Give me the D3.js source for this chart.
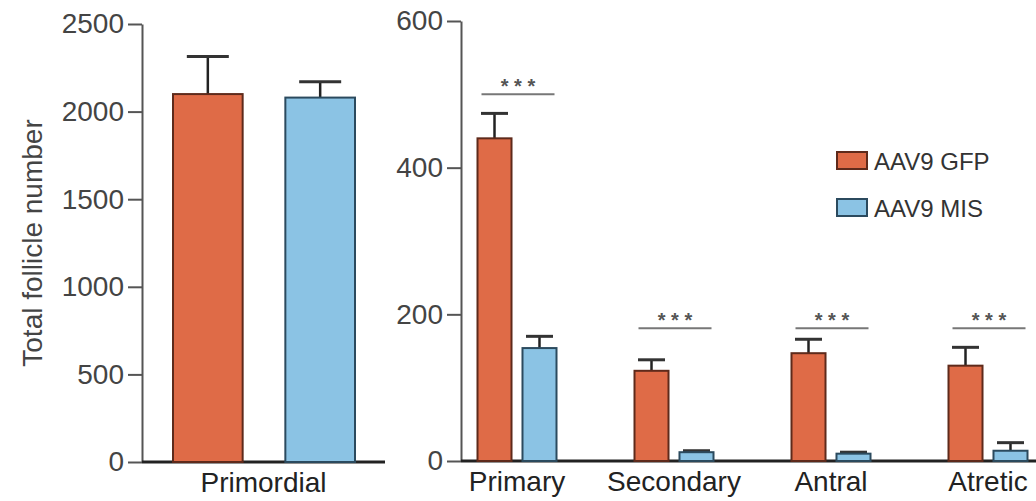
<!DOCTYPE html>
<html>
<head>
<meta charset="utf-8">
<script src="https://cdn.jsdelivr.net/npm/d3@7"></script>
<style>
  html, body { margin: 0; padding: 0; background: #fff; }
  svg { display: block; font-family: "Liberation Sans", Arial, sans-serif; }
</style>
</head>
<body>
<div id="chart"></div>
<script>
// data
const series = ["AAV9 GFP", "AAV9 MIS"];
const leftCategories = ["Primordial"];
const primordialMean = [2100, 2080];
const primordialErr = [215, 90];

const rightCategories = ["Primary", "Secondary", "Antral", "Atretic"];
const gfpMean = [440, 123, 147, 130];
const gfpErr = [34, 15, 19, 25];
const misMean = [154, 12, 10, 14];
const misErr = [16, 2, 2, 11];

// significance bars (height in data units) and their labels
const sigLevel = [500, 181, 181, 181];
const sigLabel = ["* * *", "* * *", "* * *", "* * *"];

const leftTicks = [0, 500, 1000, 1500, 2000, 2500];
const rightTicks = [0, 200, 400, 600];

// colours
const fillColor = { "AAV9 GFP": "#df6b47", "AAV9 MIS": "#8bc3e4" };
const edgeColor = { "AAV9 GFP": "#5e2a1b", "AAV9 MIS": "#2b4a5e" };

const W = 1036, H = 501;
const svg = d3.select("#chart").append("svg")
  .attr("width", W).attr("height", H);

// generic panel drawing
function drawPanel(opts) {
  const { rows, y, ticks, xLeft, xRight, band, inner, cap } = opts;

  // y axis
  const yAxis = svg.append("g")
    .attr("transform", `translate(${xLeft},0)`)
    .call(d3.axisLeft(y).tickValues(ticks).tickFormat(d3.format("d"))
      .tickSize(14).tickSizeOuter(0).tickPadding(4));
  yAxis.select(".domain").attr("stroke", "#555").attr("stroke-width", 2);
  yAxis.selectAll(".tick line").attr("stroke", "#555").attr("stroke-width", 2);
  yAxis.selectAll(".tick text")
    .attr("fill", "#444")
    .style("font-size", "28px");

  // x baseline
  svg.append("line")
    .attr("x1", xLeft).attr("x2", xRight)
    .attr("y1", y(0)).attr("y2", y(0))
    .attr("stroke", "#222").attr("stroke-width", 3);

  // category labels
  const xAxis = svg.append("g")
    .attr("transform", `translate(0,${y(0)})`)
    .call(d3.axisBottom(band).tickSize(0).tickPadding(10));
  xAxis.select(".domain").remove();
  xAxis.selectAll(".tick text")
    .attr("fill", "#222")
    .style("font-size", "28px");

  // bars
  const groups = svg.append("g").selectAll("g.grp")
    .data(rows)
    .enter().append("g")
      .attr("class", "grp")
      .attr("transform", d => `translate(${band(d.cat)},0)`);

  const bars = groups.selectAll("g.bar")
    .data(d => d.values)
    .enter().append("g").attr("class", "bar");

  // error bars (upper only)
  bars.append("line")
    .attr("x1", d => inner(d.key) + inner.bandwidth() / 2)
    .attr("x2", d => inner(d.key) + inner.bandwidth() / 2)
    .attr("y1", d => y(d.mean))
    .attr("y2", d => y(d.mean + d.err))
    .attr("stroke", "#222").attr("stroke-width", 2.5);
  bars.append("line")
    .attr("x1", d => inner(d.key) + inner.bandwidth() / 2 - cap / 2)
    .attr("x2", d => inner(d.key) + inner.bandwidth() / 2 + cap / 2)
    .attr("y1", d => y(d.mean + d.err))
    .attr("y2", d => y(d.mean + d.err))
    .attr("stroke", "#333").attr("stroke-width", 3);

  bars.append("rect")
    .attr("x", d => inner(d.key))
    .attr("y", d => y(d.mean))
    .attr("width", inner.bandwidth())
    .attr("height", d => y(0) - y(d.mean))
    .attr("fill", d => fillColor[d.key])
    .attr("stroke", d => edgeColor[d.key])
    .attr("stroke-width", 2);
}

// 1) left panel: primordial
const yLeft = d3.scaleLinear().domain([0, 2500]).range([462, 24]);
const xLeftBand = d3.scaleBand().domain(leftCategories).range([142, 385]);
const xLeftInner = d3.scaleBand().domain(series).range([31, 213]).paddingInner(0.38);

drawPanel({
  rows: [{ cat: "Primordial", values: series.map((s, i) => ({ key: s, mean: primordialMean[i], err: primordialErr[i] })) }],
  y: yLeft, ticks: leftTicks, xLeft: 142, xRight: 385,
  band: xLeftBand, inner: xLeftInner, cap: 42
});

// y title
svg.append("text")
  .attr("transform", "translate(42,243) rotate(-90)")
  .attr("text-anchor", "middle")
  .attr("fill", "#444")
  .style("font-size", "28px")
  .text("Total follicle number");

// 2) right panel: growing follicles
const yRight = d3.scaleLinear().domain([0, 600]).range([461, 21]);
const xRightBand = d3.scaleBand().domain(rightCategories).range([438.5, 1066.5]);
const xRightInner = d3.scaleBand().domain(series).range([39, 118]).paddingInner(0.244);

const rightRows = rightCategories.map((c, i) => ({
  cat: c,
  values: [
    { key: series[0], mean: gfpMean[i], err: gfpErr[i] },
    { key: series[1], mean: misMean[i], err: misErr[i] }
  ]
}));

drawPanel({
  rows: rightRows,
  y: yRight, ticks: rightTicks, xLeft: 461, xRight: 1036,
  band: xRightBand, inner: xRightInner, cap: 27
});

// significance lines
rightCategories.forEach((c, i) => {
  const x0 = xRightBand(c) + xRightInner(series[0]) + 4;
  const x1 = xRightBand(c) + xRightInner(series[1]) + xRightInner.bandwidth() - 2;
  const ys = yRight(sigLevel[i]);
  svg.append("line")
    .attr("x1", x0).attr("x2", x1)
    .attr("y1", ys).attr("y2", ys)
    .attr("stroke", "#777").attr("stroke-width", 2);
  svg.append("text")
    .attr("x", (x0 + x1) / 2)
    .attr("y", ys - 1)
    .attr("text-anchor", "middle")
    .attr("fill", "#555")
    .style("font-size", "20px")
    .style("font-weight", "bold")
    .text(sigLabel[i]);
});

// 3) legend
const legend = svg.append("g").attr("transform", "translate(837,152)");
series.forEach((s, i) => {
  const row = legend.append("g").attr("transform", `translate(0,${i * 47})`);
  row.append("rect")
    .attr("width", 30).attr("height", 17)
    .attr("fill", fillColor[s])
    .attr("stroke", edgeColor[s]).attr("stroke-width", 2);
  row.append("text")
    .attr("x", 37).attr("y", 9)
    .attr("dy", "0.36em")
    .attr("fill", "#333")
    .style("font-size", "24px")
    .text(s);
});
</script>
</body>
</html>
